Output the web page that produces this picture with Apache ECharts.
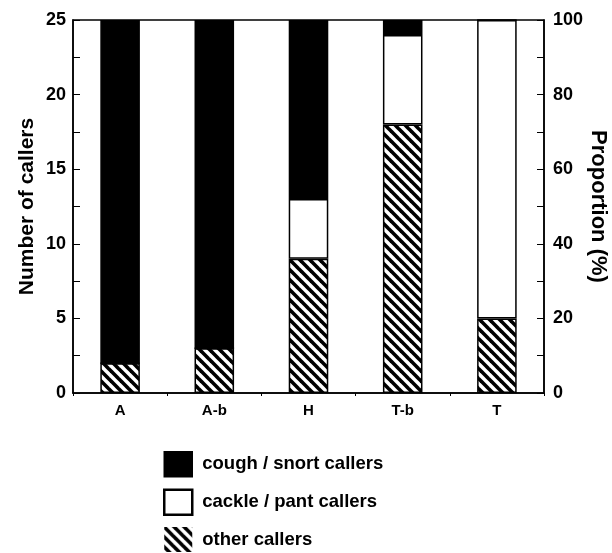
<!DOCTYPE html>
<html>
<head>
<meta charset="utf-8">
<script src="https://cdn.jsdelivr.net/npm/echarts@6/dist/echarts.min.js"></script>
<style>html,body{margin:0;padding:0;background:#fff}#c{width:612px;height:553px}</style>
</head>
<body>
<div id="c"></div>
<script>
const categories = ['A', 'A-b', 'H', 'T-b', 'T'];
const otherCallers = [2, 3, 9, 18, 5];
const cackleCallers = [0, 0, 4, 6, 20];
const coughCallers = [23, 22, 12, 1, 0];
const leftTicks = [0, 5, 10, 15, 20, 25];
const rightTicks = [0, 20, 40, 60, 80, 100];

const FONT = '"Liberation Sans", Arial, sans-serif';

function hatch() {
  const n = 10;
  const c = document.createElement('canvas');
  c.width = n; c.height = n;
  const g = c.getContext('2d');
  g.fillStyle = '#fff'; g.fillRect(0, 0, n, n);
  g.strokeStyle = '#000'; g.lineWidth = 3.6;
  for (const k of [-n, 0, n]) {
    g.beginPath(); g.moveTo(k - 2, -2); g.lineTo(k + n + 2, n + 2); g.stroke();
  }
  return c;
}
const hatchFill = { image: hatch(), repeat: 'repeat' };

const chart = echarts.init(document.getElementById('c'), null, { renderer: 'canvas' });
const border = { borderColor: '#000', borderWidth: 1.5 };
chart.setOption({
  animation: false,
  backgroundColor: '#fff',
  grid: { left: 73, right: 68, top: 20, bottom: 160, containLabel: false, outerBoundsMode: 'none',
    show: true, borderColor: '#000', borderWidth: 1.5, backgroundColor: 'transparent' },
  legend: {
    orient: 'vertical', left: 163, top: 451, height: 140, padding: 0,
    itemWidth: 28, itemHeight: 25, itemGap: 11,
    icon: 'rect',
    textStyle: { fontFamily: FONT, fontWeight: 'bold', fontSize: 18.5, color: '#000', padding: [0, 0, 0, 5] },
    data: [
      { name: 'cough / snort callers', itemStyle: { color: '#000', borderColor: '#000', borderWidth: 1.5 } },
      { name: 'cackle / pant callers', itemStyle: { color: '#fff', borderColor: '#000', borderWidth: 2.5 } },
      { name: 'other callers', itemStyle: { color: hatchFill, borderColor: '#000', borderWidth: 0 } }
    ]
  },
  xAxis: {
    type: 'category', data: categories, boundaryGap: true,
    axisLine: { lineStyle: { color: '#000', width: 1.5 } },
    axisTick: { show: true, length: 3, lineStyle: { color: '#000' } },
    axisLabel: { fontFamily: FONT, fontWeight: 'bold', fontSize: 15, color: '#000', margin: 10 }
  },
  yAxis: [{
    type: 'value', min: 0, max: 25, interval: 5,
    name: 'Number of callers', nameLocation: 'middle', nameGap: 35, nameMoveOverlap: false,
    nameTextStyle: { fontFamily: FONT, fontWeight: 'bold', fontSize: 21, color: '#000' },
    axisLine: { show: true, lineStyle: { color: '#000', width: 1.5 } },
    axisTick: { show: true, inside: true, length: 7, lineStyle: { color: '#000' } },
    minorTick: { show: true, splitNumber: 2, length: 7, lineStyle: { color: '#000' } },
    splitLine: { show: false },
    axisLabel: { fontFamily: FONT, fontWeight: 'bold', fontSize: 18, color: '#000', margin: 7,
      formatter: v => leftTicks.includes(v) ? String(v) : '' }
  }, {
    type: 'value', min: 0, max: 100, interval: 20, position: 'right',
    name: 'Proportion (%)', nameLocation: 'middle', nameGap: 43, nameRotate: -90, nameMoveOverlap: false,
    nameTextStyle: { fontFamily: FONT, fontWeight: 'bold', fontSize: 22, color: '#000' },
    axisLine: { show: true, lineStyle: { color: '#000', width: 1.5 } },
    axisTick: { show: true, inside: true, length: 7, lineStyle: { color: '#000' } },
    minorTick: { show: true, splitNumber: 2, length: 7, lineStyle: { color: '#000' } },
    splitLine: { show: false },
    axisLabel: { fontFamily: FONT, fontWeight: 'bold', fontSize: 18, color: '#000', margin: 9,
      formatter: v => rightTicks.includes(v) ? String(v) : '' }
  }],
  series: [
    { name: 'other callers', type: 'bar', stack: 's', barWidth: '42%', data: otherCallers,
      itemStyle: Object.assign({ color: hatchFill }, border) },
    { name: 'cackle / pant callers', type: 'bar', stack: 's', data: cackleCallers,
      itemStyle: Object.assign({ color: '#fff' }, border) },
    { name: 'cough / snort callers', type: 'bar', stack: 's', data: coughCallers,
      itemStyle: Object.assign({ color: '#000' }, border) }
  ]
});
</script>
</body>
</html>
